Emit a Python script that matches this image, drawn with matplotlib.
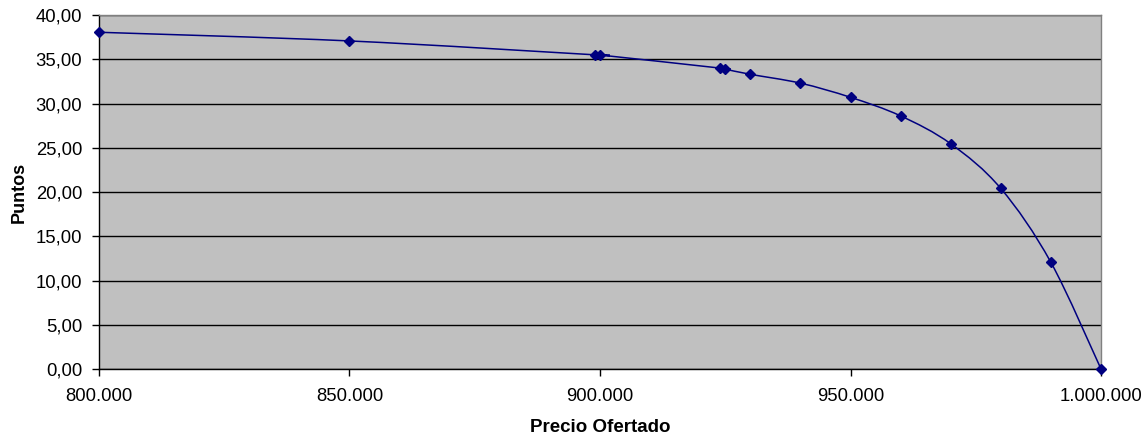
import matplotlib
matplotlib.use("Agg")
import matplotlib.pyplot as plt
from matplotlib.path import Path
from matplotlib.patches import PathPatch
from matplotlib.ticker import FuncFormatter, MultipleLocator
import numpy as np

precio = [800000, 850000, 899000, 900000, 924000, 925000, 930000, 940000,
          950000, 960000, 970000, 980000, 990000, 1000000]
puntos = [38.05, 37.07, 35.5, 35.48, 34.0, 33.88, 33.3, 32.3,
          30.7, 28.6, 25.45, 20.4, 12.05, 0.0]

plt.rcParams['font.family'] = ['Liberation Sans', 'DejaVu Sans']

fig = plt.figure(figsize=(11.47, 4.44), dpi=100)
ax = fig.add_axes([0.0863, 0.1689, 0.8736, 0.7973])
ax.set_facecolor('#C0C0C0')

ax.set_xlim(800000, 1000000)
ax.set_ylim(0, 40)
ax.yaxis.set_major_locator(MultipleLocator(5))
ax.xaxis.set_major_locator(MultipleLocator(50000))

ax.yaxis.set_major_formatter(FuncFormatter(lambda v, p: f"{v:.2f}".replace('.', ',')))
ax.xaxis.set_major_formatter(FuncFormatter(lambda v, p: f"{int(round(v)):,}".replace(',', '.')))

ax.grid(axis='y', color='black', linewidth=1.0)
ax.set_axisbelow(True)

# smoothed line via Bezier path (Catmull-Rom control points)
x = np.array(precio, dtype=float)
y = np.array(puntos, dtype=float)
xn = (x - 800000) / 200000 * 1002
yn = y / 40 * 354
verts = [(x[0], y[0])]
codes = [Path.MOVETO]
n = len(x)
for i in range(n - 1):
    p0 = np.array([xn[max(i - 1, 0)], yn[max(i - 1, 0)]])
    p1 = np.array([xn[i], yn[i]])
    p2 = np.array([xn[i + 1], yn[i + 1]])
    p3 = np.array([xn[min(i + 2, n - 1)], yn[min(i + 2, n - 1)]])
    c1 = p1 + (p2 - p0) / 6.0
    c2 = p2 - (p3 - p1) / 6.0
    for c in (c1, c2, p2):
        verts.append((c[0] / 1002 * 200000 + 800000, c[1] / 354 * 40))
        codes.append(Path.CURVE4)
patch = PathPatch(Path(verts, codes), facecolor='none', edgecolor='#000080',
                  linewidth=1.1, zorder=3, clip_on=False)
ax.add_patch(patch)
ax.plot(precio, puntos, linestyle='none', marker='D', markersize=5.5,
        color='#000080', zorder=4, clip_on=False)

for s in ['top', 'right']:
    ax.spines[s].set_color('#808080')
    ax.spines[s].set_linewidth(1.0)
for s in ['left', 'bottom']:
    ax.spines[s].set_color('black')
    ax.spines[s].set_linewidth(1.0)

ax.tick_params(axis='both', direction='out', length=5, width=1, labelsize=13.3, colors='black')
ax.tick_params(axis='x', pad=9)
ax.tick_params(axis='y', pad=7)

ax.set_xlabel('Precio Ofertado', fontsize=13.5, fontweight='bold', labelpad=10)
ax.set_ylabel('Puntos', fontsize=13, fontweight='bold', labelpad=6)

fig.savefig('out.png', dpi=100)
